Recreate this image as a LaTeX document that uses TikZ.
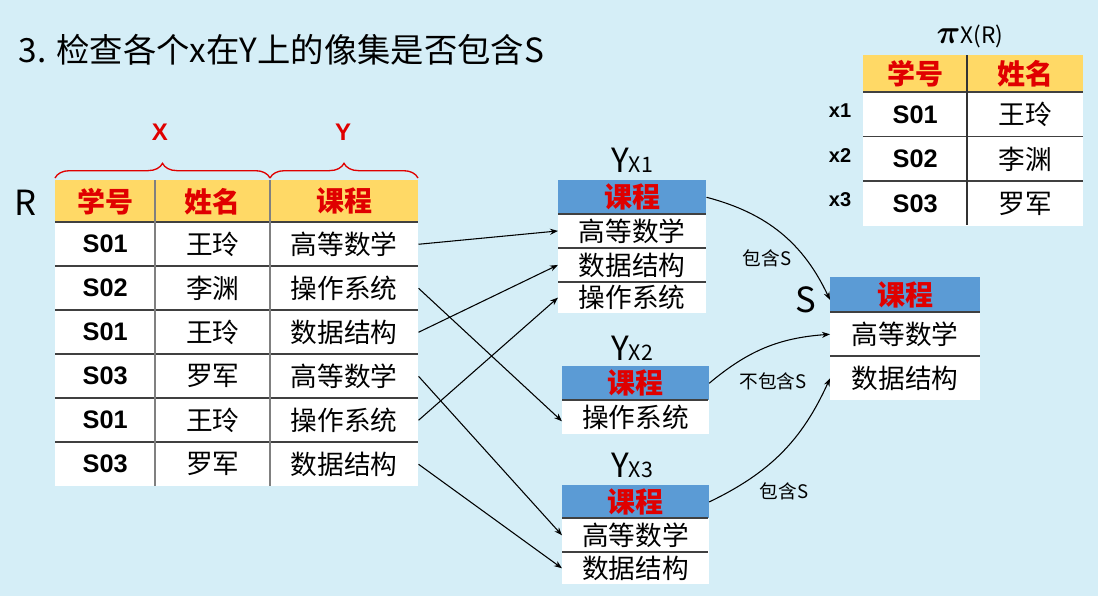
\documentclass[tikz,border=0pt]{standalone}
\usepackage{amsmath}
\usepackage{fontspec}
\setmainfont{Noto Sans CJK SC}
\newfontfamily\lat{Liberation Sans}
\usetikzlibrary{decorations.pathreplacing,arrows.meta}
\definecolor{bgc}{HTML}{D5EEF7}
\definecolor{hdy}{HTML}{FFD966}
\definecolor{hdb}{HTML}{5B9BD5}
\definecolor{rd}{HTML}{E00000}
\begin{document}
\begin{tikzpicture}[x=0.75pt,y=-0.75pt,
  cell/.style={fill=white,inner sep=0pt,anchor=north west,font=\fontsize{20}{20}\selectfont},
  sid/.style={cell,font=\lat\bfseries\fontsize{19}{19}\selectfont},
  hy/.style={cell,fill=hdy,text=rd,font=\bfseries\fontsize{21}{21}\selectfont},
  hb/.style={cell,fill=hdb,text=rd,font=\bfseries\fontsize{21}{21}\selectfont},
  sep/.style={draw=black!75,line width=1pt},
  vsep/.style={draw=black!50,line width=1pt},
  arr/.style={-{Stealth[length=6pt,width=4.5pt]},line width=0.8pt},
  lbl/.style={font=\fontsize{14}{14}\selectfont},
  ylab/.style={font=\fontsize{25}{25}\selectfont},
  brc/.style={draw=rd,line width=1pt,decorate,decoration={brace,amplitude=11pt}}]
\fill[bgc] (0,0) rectangle (1098,596);
\useasboundingbox (0,0) rectangle (1098,596);
\node[anchor=west,font=\fontsize{25}{25}\selectfont] (title) at (14,50) {3. 检查各个x在Y上的像集是否包含S};
% left table
\node[font=\fontsize{26}{26}\selectfont] (R) at (26,203) {R};
\node[hy,minimum width=75pt,minimum height=31.5pt] (h1) at (55,180) {学号};
\node[hy,minimum width=86.25pt,minimum height=31.5pt] (h2) at (155,180) {姓名};
\node[hy,minimum width=111pt,minimum height=31.5pt] (h3) at (270,180) {课程};
\foreach \i/\s/\n/\c [evaluate=\i as \yy using 222+(\i-1)*44] in
 {1/S01/王玲/高等数学,2/S02/李渊/操作系统,3/S01/王玲/数据结构,4/S03/罗军/高等数学,5/S01/王玲/操作系统,6/S03/罗军/数据结构}{
 \node[sid,minimum width=75pt,minimum height=33pt] (r\i a) at (55,\yy) {\s};
 \node[cell,minimum width=86.25pt,minimum height=33pt] (r\i b) at (155,\yy) {\n};
 \node[cell,minimum width=111pt,minimum height=33pt] (r\i c) at (270,\yy) {\c};
}
\foreach \yy in {222,266,310,354,398,442} \draw[sep] (55,\yy) -- (418,\yy);
\draw[vsep] (155,180) -- (155,486) (270,180) -- (270,486);
\draw[brc] (55,178) -- (270,178);
\draw[brc] (270,178) -- (418,178);
\node[text=rd,font=\lat\bfseries\fontsize{18}{18}\selectfont] (X) at (160,132) {X};
\node[text=rd,font=\lat\bfseries\fontsize{18}{18}\selectfont] (Y) at (343,132) {Y};
% Yx1
\node[ylab] (ly1) at (632,160) {Y\fontsize{16}{16}\selectfont X1};
\node[hb,minimum width=111pt,minimum height=25.5pt] (y1h) at (558,180) {课程};
\node[cell,minimum width=111pt,minimum height=25pt] (y1a) at (558,214) {高等数学};
\node[cell,minimum width=111pt,minimum height=25pt] (y1b) at (558,248) {数据结构};
\node[cell,minimum width=111pt,minimum height=23pt] (y1c) at (558,282) {操作系统};
\draw[sep] (558,214) -- (706,214) (558,248) -- (706,248) (558,282) -- (706,282);
% Yx2
\node[ylab] (ly2) at (632,348) {Y\fontsize{16}{16}\selectfont X2};
\node[hb,minimum width=110pt,minimum height=25.5pt] (y2h) at (562,366) {课程};
\node[cell,minimum width=110pt,minimum height=25.5pt] (y2a) at (562,400) {操作系统};
\draw[sep] (562,400) -- (708,400);
% Yx3
\node[ylab] (ly3) at (632,465) {Y\fontsize{16}{16}\selectfont X3};
\node[hb,minimum width=110pt,minimum height=25pt] (y3h) at (562,485) {课程};
\node[cell,minimum width=110pt,minimum height=25.5pt] (y3a) at (562,518) {高等数学};
\node[cell,minimum width=110pt,minimum height=24pt] (y3b) at (562,552) {数据结构};
\draw[sep] (562,518) -- (708,518) (562,552) -- (708,552);
% S
\node[font=\fontsize{26}{26}\selectfont] (lS) at (806,300) {S};
\node[hb,minimum width=112.5pt,minimum height=26pt] (sh) at (830,277) {课程};
\node[cell,minimum width=112.5pt,minimum height=33pt] (sa) at (830,312) {高等数学};
\node[cell,minimum width=112.5pt,minimum height=33pt] (sb) at (830,356) {数据结构};
\draw[sep] (830,312) -- (980,312) (830,356) -- (980,356);
% pi table
\node[font=\fontsize{25}{25}\selectfont] (pi) at (970,36) {$\boldsymbol{\pi}$\fontsize{17}{17}\selectfont X(R)};
\node[hy,minimum width=78pt,minimum height=27.75pt] (ph1) at (863,55) {学号};
\node[hy,minimum width=87pt,minimum height=27.75pt] (ph2) at (967,55) {姓名};
\foreach \i/\s/\n [evaluate=\i as \yy using 92+(\i-1)*44.5] in {1/S01/王玲,2/S02/李渊,3/S03/罗军}{
 \node[sid,minimum width=78pt,minimum height=33.4pt] (p\i a) at (863,\yy) {\s};
 \node[cell,minimum width=87pt,minimum height=33.4pt] (p\i b) at (967,\yy) {\n};
 \node[font=\lat\bfseries\fontsize{15}{15}\selectfont] (px\i) at (840,\yy+19) {x\i};
}
\draw[sep] (863,92) -- (1083,92) (863,136.5) -- (1083,136.5) (863,181) -- (1083,181);
\draw[line width=1pt,black!80] (967,55) -- (967,225);
% arrows
\draw[arr] (r1c.east) -- (y1a.west);
\draw[arr] (r2c.east) -- ([yshift=-3pt]y2a.west);
\draw[arr] (r3c.east) -- (y1b.west);
\draw[arr] (r4c.east) -- (y3a.west);
\draw[arr] (r5c.east) -- (y1c.west);
\draw[arr] (r6c.east) -- (y3b.west);
\draw[arr] (y1h.east) to[bend left=25] ([yshift=-4pt]sh.west);
\draw[arr] (y2h.east) to[bend left=18] (sa.west);
\draw[arr] (y3h.east) to[bend right=20] (sb.west);
\node[lbl] (l1) at (767,258) {包含S};
\node[lbl] (l2) at (773,381) {不包含S};
\node[lbl] (l3) at (784,491) {包含S};
\end{tikzpicture}
\end{document}
